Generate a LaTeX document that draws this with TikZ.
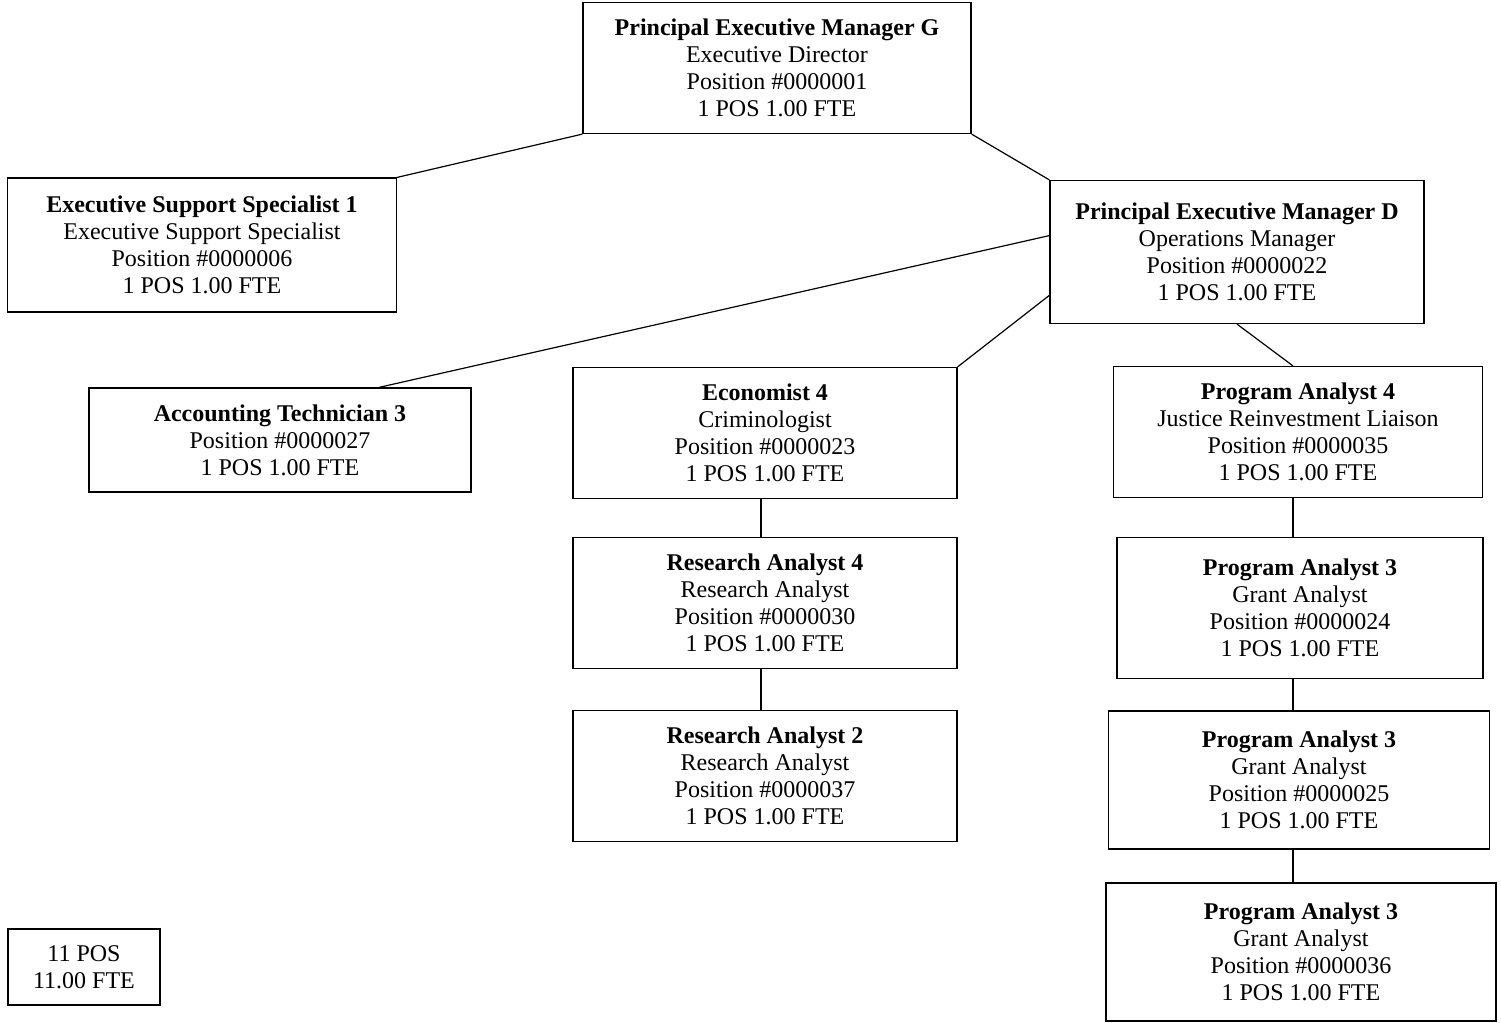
\documentclass[tikz,border=0pt]{standalone}
\usepackage{fontspec}
\setmainfont{Liberation Serif}
\usetikzlibrary{positioning}

\begin{document}
\begin{tikzpicture}
        [x=0.5pt, y=-0.5pt,
        every node/.style={draw, align=center, inner sep=0pt, line width=0.6pt,
          font=\fontsize{12}{13.5}\selectfont},
        every path/.style={line width=0.6pt},
        post/.style={minimum width=#1*0.5pt},
        tall/.style={minimum height=131*0.5pt},
        short/.style={minimum height=104*0.5pt}]

        \useasboundingbox (0,0) rectangle (1501,1023);

        \node[post=388, tall] (peg) at (777, 68) {\textbf{Principal Executive Manager G}\\Executive Director\\Position \#0000001\\1 POS 1.00 FTE};
        \node[post=389, minimum height=134*0.5pt] (ess) at (202, 245) {\textbf{Executive Support Specialist 1}\\Executive Support Specialist\\Position \#0000006\\1 POS 1.00 FTE};
        \node[post=374, minimum height=143*0.5pt] (ped) at (1237, 252) {\textbf{Principal Executive Manager D}\\Operations Manager\\Position \#0000022\\1 POS 1.00 FTE};
        \node[post=382, short] (act) at (280, 440) {\textbf{Accounting Technician 3}\\Position \#0000027\\1 POS 1.00 FTE};
        \node[post=384, tall] (eco) at (765, 433) {\textbf{Economist 4}\\Criminologist\\Position \#0000023\\1 POS 1.00 FTE};
        \node[post=384, tall] (ra4) at (765, 603) {\textbf{Research Analyst 4}\\Research Analyst\\Position \#0000030\\1 POS 1.00 FTE};
        \node[post=384, tall] (ra2) at (765, 776) {\textbf{Research Analyst 2}\\Research Analyst\\Position \#0000037\\1 POS 1.00 FTE};
        \node[post=369, tall] (pa4) at (1298, 432) {\textbf{Program Analyst 4}\\Justice Reinvestment Liaison\\Position \#0000035\\1 POS 1.00 FTE};
        \node[post=366, minimum height=141*0.5pt] (pa3a) at (1300, 608) {\textbf{Program Analyst 3}\\Grant Analyst\\Position \#0000024\\1 POS 1.00 FTE};
        \node[post=381, minimum height=138*0.5pt] (pa3b) at (1299, 780) {\textbf{Program Analyst 3}\\Grant Analyst\\Position \#0000025\\1 POS 1.00 FTE};
        \node[post=390, minimum height=138*0.5pt] (pa3c) at (1301, 952) {\textbf{Program Analyst 3}\\Grant Analyst\\Position \#0000036\\1 POS 1.00 FTE};
        \node[post=152, minimum height=76*0.5pt] (total) at (84, 967) {11 POS\\11.00 FTE};

        % columns of the vertical links
        \coordinate (ecocol) at (761, 0);
        \coordinate (pacol) at (1293, 0);

        \draw (peg.south west) -- (ess.north east);
        \draw (peg.south east) -- (ped.north west);
        \draw (ped.175) -- (act.28);
        \draw (ped.193.5) -- (eco.north east);
        \draw (ped.south) -- (pacol |- pa4.north);
        \draw (ecocol |- eco.south) -- (ecocol |- ra4.north);
        \draw (ecocol |- ra4.south) -- (ecocol |- ra2.north);
        \draw (pacol |- pa4.south) -- (pacol |- pa3a.north);
        \draw (pacol |- pa3a.south) -- (pacol |- pa3b.north);
        \draw (pacol |- pa3b.south) -- (pacol |- pa3c.north);

      \end{tikzpicture}
\end{document}
